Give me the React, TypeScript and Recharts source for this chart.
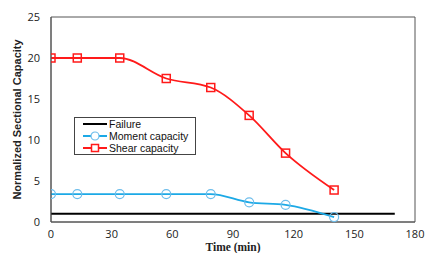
import React from 'react';
import { LineChart, Line, XAxis, YAxis, ReferenceArea } from 'recharts';

const times = [0, 13, 34, 57, 79, 98, 116, 140];
const shear = [20, 20, 20, 17.5, 16.4, 13, 8.4, 3.9];
const moment = [3.4, 3.4, 3.4, 3.4, 3.4, 2.4, 2.1, 0.6];
const failureTimes = [0, 170];
const failureValues = [1, 1];
const xTicks = [0, 30, 60, 90, 120, 150, 180];
const yTicks = [0, 5, 10, 15, 20, 25];

const data = times.map((t, i) => ({ t, shear: shear[i], moment: moment[i] }));
const failureData = failureTimes.map((t, i) => ({ t, failure: failureValues[i] }));

const RED = '#FF1A1A';
const BLUE = '#1CA9E6';
const BLUE_LIGHT = '#6DBDEB';
const FRAME = '#555';

const SquareDot = (props: any) => {
  const { cx, cy } = props;
  if (cx == null || cy == null) return null;
  return <rect x={cx - 4} y={cy - 4} width={8} height={8} fill="none" stroke={RED} strokeWidth={1.5} />;
};

const CircleDot = (props: any) => {
  const { cx, cy } = props;
  if (cx == null || cy == null) return null;
  return <circle cx={cx} cy={cy} r={4.5} fill="none" stroke={BLUE_LIGHT} strokeWidth={1.2} />;
};

const legendItems = [
  { name: 'Failure', color: '#000', mark: 'none' },
  { name: 'Moment capacity', color: BLUE, mark: 'circle' },
  { name: 'Shear capacity', color: RED, mark: 'square' },
];

const LegendBox = () => (
  <div
    style={{
      position: 'absolute',
      left: 74,
      top: 117,
      width: 112,
      border: '1px solid #444',
      background: '#fff',
      padding: '0px 0 0px 8px',
      fontFamily: 'Liberation Sans, sans-serif',
      fontSize: 10.5,
      lineHeight: '12px',
      color: '#111',
    }}
  >
    {legendItems.map((e) => (
      <div key={e.name} style={{ display: 'flex', alignItems: 'center', whiteSpace: 'nowrap', height: 12 }}>
        <svg width={24} height={12} style={{ marginRight: 2, flex: 'none' }}>
          <line x1={0} y1={6} x2={24} y2={6} stroke={e.color} strokeWidth={2} />
          {e.mark === 'circle' && <circle cx={12} cy={6} r={4} fill="#fff" stroke={BLUE_LIGHT} strokeWidth={1.2} />}
          {e.mark === 'square' && <rect x={8.5} y={2.5} width={7} height={7} fill="#fff" stroke={RED} strokeWidth={1.5} />}
        </svg>
        <span>{e.name}</span>
      </div>
    ))}
  </div>
);

export default function App() {
  return (
    <div style={{ position: 'absolute', left: 0, top: 0, width: 425, height: 253, background: '#fff' }}>
      <LineChart width={425} height={253} margin={{ top: 17, right: 10, left: 0, bottom: 0 }}>
        <XAxis
          dataKey="t"
          type="number"
          domain={[0, 180]}
          ticks={xTicks}
          allowDataOverflow
          height={31}
          tickLine={false}
          axisLine={{ stroke: FRAME }}
          tickMargin={2}
          tick={{ fontSize: 11, fill: '#222', fontFamily: 'Open Sans, sans-serif' }}
          label={{
            value: 'Time (min)',
            position: 'insideBottom',
            offset: 2,
            style: { fontSize: 11.5, fontWeight: 'bold', fill: '#222', fontFamily: 'Liberation Serif, serif' },
          }}
        />
        <YAxis
          type="number"
          domain={[0, 25]}
          ticks={yTicks}
          width={51}
          tickLine={false}
          axisLine={{ stroke: FRAME }}
          tickMargin={5}
          tick={{ fontSize: 11, fill: '#222', fontFamily: 'Open Sans, sans-serif' }}
          label={{
            value: 'Normalized Sectional Capacity',
            angle: -90,
            position: 'insideLeft',
            offset: 17,
            style: { textAnchor: 'middle', fontSize: 11, fontWeight: 'bold', fill: '#222', fontFamily: 'Liberation Sans, sans-serif' },
          }}
        />
        <ReferenceArea x1={0} x2={180} y1={0} y2={25} fill="none" stroke={FRAME} strokeWidth={1} ifOverflow="visible" />
        <Line
          data={failureData}
          dataKey="failure"
          stroke="#000"
          strokeWidth={2}
          dot={false}
          isAnimationActive={false}
        />
        <Line
          data={data}
          dataKey="moment"
          type="monotone"
          stroke={BLUE}
          strokeWidth={1.8}
          dot={<CircleDot />}
          isAnimationActive={false}
        />
        <Line
          data={data}
          dataKey="shear"
          type="monotone"
          stroke={RED}
          strokeWidth={1.8}
          dot={<SquareDot />}
          isAnimationActive={false}
        />
      </LineChart>
      <LegendBox />
    </div>
  );
}
